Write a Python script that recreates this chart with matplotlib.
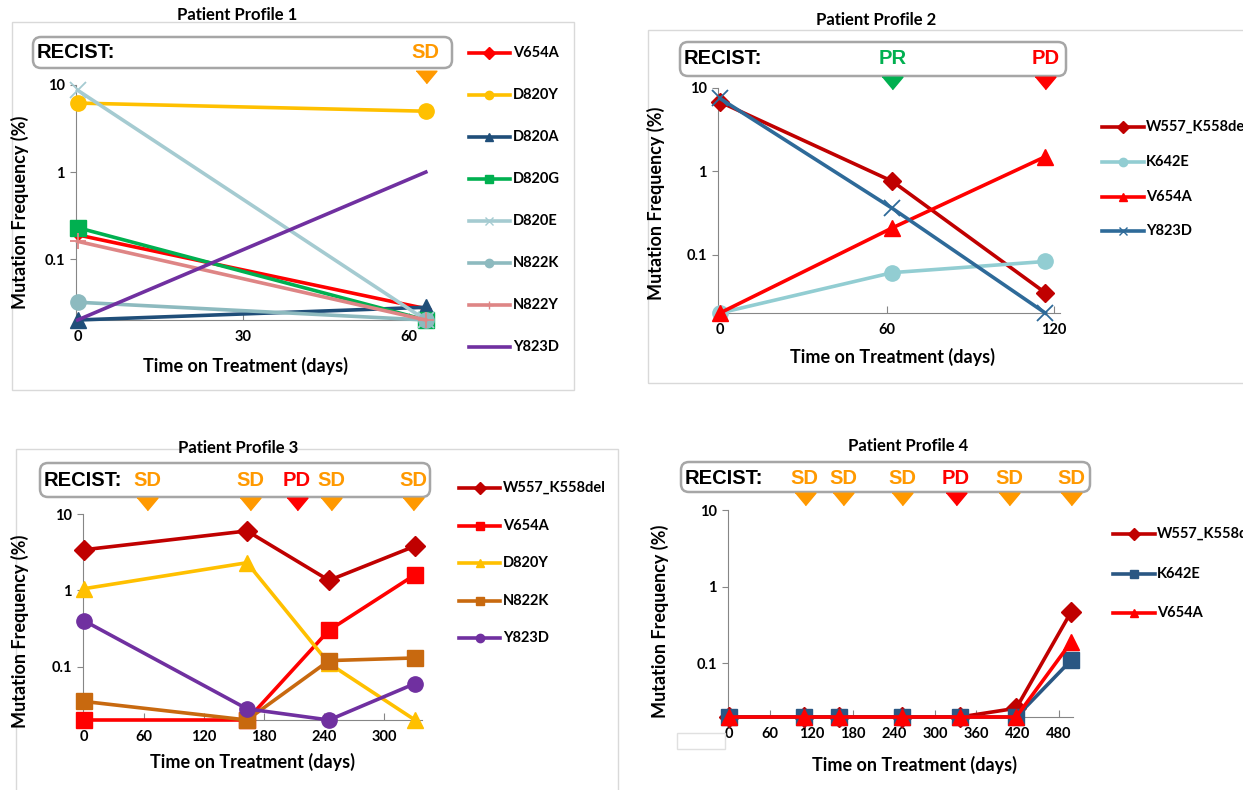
import matplotlib
matplotlib.use("Agg")
import matplotlib.pyplot as plt
from matplotlib.lines import Line2D
from matplotlib.patches import FancyBboxPatch, Rectangle
from matplotlib.ticker import NullLocator
from matplotlib.transforms import blended_transform_factory

W, H, DPI = 1243, 790, 100
plt.rcParams['font.family'] = ['Lato', 'DejaVu Sans']
plt.rcParams['font.weight'] = 'bold'

# ---------------- data ----------------
p1_days = [0, 63]
p1_labels = ["V654A", "D820Y", "D820A", "D820G", "D820E", "N822K", "N822Y", "Y823D"]
p1_values = [[0.19, 0.027], [6.2, 5.0], [0.02, 0.028], [0.23, 0.02],
             [8.7, 0.02], [0.032, 0.02], [0.16, 0.02], [0.02, 1.0]]
p1_xticks = [0, 30, 60]
p1_recist_days = [63]
p1_recist = ["SD"]

p2_days = [0, 62, 117]
p2_labels = ["W557_K558del", "K642E", "V654A", "Y823D"]
p2_values = [[6.8, 0.76, 0.035], [0.02, 0.061, 0.083], [0.02, 0.21, 1.5], [7.5, 0.36, 0.02]]
p2_xticks = [0, 60, 120]
p2_recist_days = [62, 117]
p2_recist = ["PR", "PD"]

p3_days = [0, 163, 245, 331]
p3_labels = ["W557_K558del", "V654A", "D820Y", "N822K", "Y823D"]
p3_values = [[3.4, 6.0, 1.35, 3.8], [0.02, 0.02, 0.3, 1.6], [1.05, 2.3, 0.11, 0.02],
             [0.035, 0.02, 0.12, 0.13], [0.40, 0.028, 0.02, 0.06]]
p3_xticks = [0, 60, 120, 180, 240, 300]
p3_recist_days = [63, 166, 213, 247, 329]
p3_recist = ["SD", "SD", "PD", "SD", "SD"]

p4_days = [0, 109, 160, 252, 336, 418, 498]
p4_labels = ["W557_K558del", "K642E", "V654A"]
p4_values = [[0.02, 0.02, 0.02, 0.02, 0.02, 0.026, 0.47],
             [0.02, 0.02, 0.02, 0.02, 0.02, 0.02, 0.11],
             [0.02, 0.02, 0.02, 0.02, 0.02, 0.02, 0.19]]
p4_xticks = [0, 60, 120, 180, 240, 300, 360, 420, 480]
p4_recist_days = [110, 166, 252, 330, 408, 498]
p4_recist = ["SD", "SD", "SD", "PD", "SD", "SD"]

# ---------------- styles ----------------
DARKRED, RED = '#C00000', '#FF0000'
RECIST_COLORS = {"SD": '#FF9900', "PR": '#00B050', "PD": '#FF0000'}
TRI = [(-1, 0.6), (1, 0.6), (0, -0.6)]

p1_style = dict(colors=['#FF0000', '#FFC000', '#1F4E79', '#00B050', '#A5CBD1', '#8DBABF', '#DE8585', '#7030A0'],
                markers=['D', 'o', '^', 's', 'x', 'o', '+', None],
                msizes=[5, 11, 11, 11, 12, 11, 12, 0])
p2_style = dict(colors=[DARKRED, '#92CDD2', RED, '#2E6A99'],
                markers=['D', 'o', '^', 'x'], msizes=[9, 11, 12, 12])
p3_style = dict(colors=[DARKRED, RED, '#FFC000', '#C8690F', '#7030A0'],
                markers=['D', 's', '^', 's', 'o'], msizes=[10, 11, 12, 11, 11])
p4_style = dict(colors=[DARKRED, '#2A5783', RED],
                markers=['D', 's', '^'], msizes=[10, 11, 12])

fig = plt.figure(figsize=(W / DPI, H / DPI), dpi=DPI)
inch = fig.dpi_scale_trans


def fy(y):
    return (H - y) / DPI


def draw_panel(title, days, labels, values, style, xticks, xlim, rdays, rlabels, lay):
    l, t, r, b = lay['ax']
    ax = fig.add_axes([l / W, 1 - b / H, (r - l) / W, (b - t) / H])

    for lab, vals, col, mk, ms in zip(labels, values, style['colors'], style['markers'], style['msizes']):
        thin = mk in ('x', '+')
        ax.plot(days, vals, color=col, lw=2.6, marker=mk, ms=ms,
                mew=1.3 if thin else 1, clip_on=False, zorder=3)

    ax.set_yscale('log')
    ax.set_ylim(0.02, 10)
    ax.set_yticks([0.1, 1, 10])
    ax.set_yticklabels(['0.1', '1', '10'])
    ax.yaxis.set_minor_locator(NullLocator())
    ax.set_xlim(*xlim)
    ax.set_xticks(xticks)
    for s in ('top', 'right'):
        ax.spines[s].set_visible(False)
    for s in ('left', 'bottom'):
        ax.spines[s].set_color('#868686')
    ax.tick_params(axis='x', direction='in', length=5, pad=7, color='#868686', labelsize=10.5)
    ax.tick_params(axis='y', direction='out', length=4, pad=4, color='#868686', labelsize=10.5)
    ax.patch.set_alpha(0)

    # chart frame, title, axis labels
    if 'frame' in lay:
        fl, ft, fr, fb = lay['frame']
        fig.add_artist(Rectangle((fl / DPI, fy(fb)), (fr - fl) / DPI, (fb - ft) / DPI,
                                 transform=inch, fill=False, ec='#D9D9D9', lw=1, zorder=0))
    fig.text(lay['title'][0] / DPI, fy(lay['title'][1]), title, transform=inch,
             ha='center', va='center', fontsize=12)
    fig.text(lay['ylabel'][0] / DPI, fy(lay['ylabel'][1]), "Mutation Frequency (%)", transform=inch,
             ha='center', va='center', rotation=90, fontsize=13)
    fig.text(lay['xlabel'][0] / DPI, fy(lay['xlabel'][1]), "Time on Treatment (days)", transform=inch,
             ha='center', va='center', fontsize=13)

    # RECIST box
    bl, bt, br, bb = lay['box']
    fig.add_artist(FancyBboxPatch((bl / DPI, fy(bb)), (br - bl) / DPI, (bb - bt) / DPI,
                                  boxstyle="round,pad=0,rounding_size=0.08", transform=inch,
                                  fc='white', ec='#A6A6A6', lw=1.8, zorder=1))
    fig.text((bl + 4) / DPI, fy(lay['label_y']), "RECIST:", transform=inch, ha='left', va='center',
             fontsize=14.5, family=['Liberation Sans', 'DejaVu Sans'], zorder=2)
    blend = blended_transform_factory(ax.transData, inch)
    for d, rl in zip(rdays, rlabels):
        c = RECIST_COLORS[rl]
        fig.text(d, fy(lay['label_y']), rl, transform=blend, ha='center', va='center', color=c,
                 fontsize=14.5, family=['Liberation Sans', 'DejaVu Sans'], zorder=2)
        fig.add_artist(Line2D([d], [fy(lay['tri_y'])], transform=blend, marker=TRI, ms=15,
                              color=c, ls='none', zorder=2))

    # legend
    x0, x1, tx = lay['legend_x']
    for lab, col, mk, y in zip(labels, style['colors'], style['markers'], lay['legend_y']):
        fig.add_artist(Line2D([x0 / DPI, x1 / DPI], [fy(y)] * 2, transform=inch, color=col, lw=2.6))
        if mk:
            fig.add_artist(Line2D([(x0 + x1) / 2 / DPI], [fy(y)], transform=inch, marker=mk,
                                  ms=6, mew=1, color=col, ls='none'))
        fig.text(tx / DPI, fy(y), lab, transform=inch, ha='left', va='center', fontsize=10.5)
    return ax


draw_panel("Patient Profile 1", p1_days, p1_labels, p1_values, p1_style, p1_xticks, (-0.3, 64.3),
           p1_recist_days, p1_recist,
           dict(ax=(76, 85, 433, 320), frame=(12, 22, 574, 390), title=(237, 15),
                box=(33, 37, 452, 68), label_y=52, tri_y=77, ylabel=(20, 212), xlabel=(245, 366),
                legend_x=(469, 510, 513),
                legend_y=[53, 95, 137, 179, 221, 263, 305, 347]))

draw_panel("Patient Profile 2", p2_days, p2_labels, p2_values, p2_style, p2_xticks, (-0.7, 122.3),
           p2_recist_days, p2_recist,
           dict(ax=(718, 88, 1060, 313), frame=(648, 30, 1250, 383), title=(876, 20),
                box=(680, 42, 1066, 76), label_y=59, tri_y=83, ylabel=(656, 203), xlabel=(892, 357),
                legend_x=(1102, 1144, 1146), legend_y=[127, 162, 197, 231]))

draw_panel("Patient Profile 3", p3_days, p3_labels, p3_values, p3_style, p3_xticks, (-1, 338),
           p3_recist_days, p3_recist,
           dict(ax=(83, 514, 422, 720), frame=(16, 449, 618, 800), title=(238, 448),
                box=(40, 463, 430, 497), label_y=481, tri_y=504, ylabel=(20, 631), xlabel=(252, 762),
                legend_x=(459, 500, 503), legend_y=[488, 526, 563, 601, 638]))

draw_panel("Patient Profile 4", p4_days, p4_labels, p4_values, p4_style, p4_xticks, (-1.5, 500.7),
           p4_recist_days, p4_recist,
           dict(ax=(728, 510, 1073, 717), title=(908, 446),
                box=(681, 462, 1090, 492), label_y=479, tri_y=499, ylabel=(660, 621), xlabel=(914, 765),
                legend_x=(1113, 1155, 1157), legend_y=[534, 574, 613]))

# small blank box left of the panel 4 axis
fig.add_artist(Rectangle((677 / DPI, fy(749)), 48 / DPI, 16 / DPI, transform=inch,
                         fc='white', ec='#E0E0E0', lw=1, zorder=5))

fig.savefig("out.png", dpi=DPI)
